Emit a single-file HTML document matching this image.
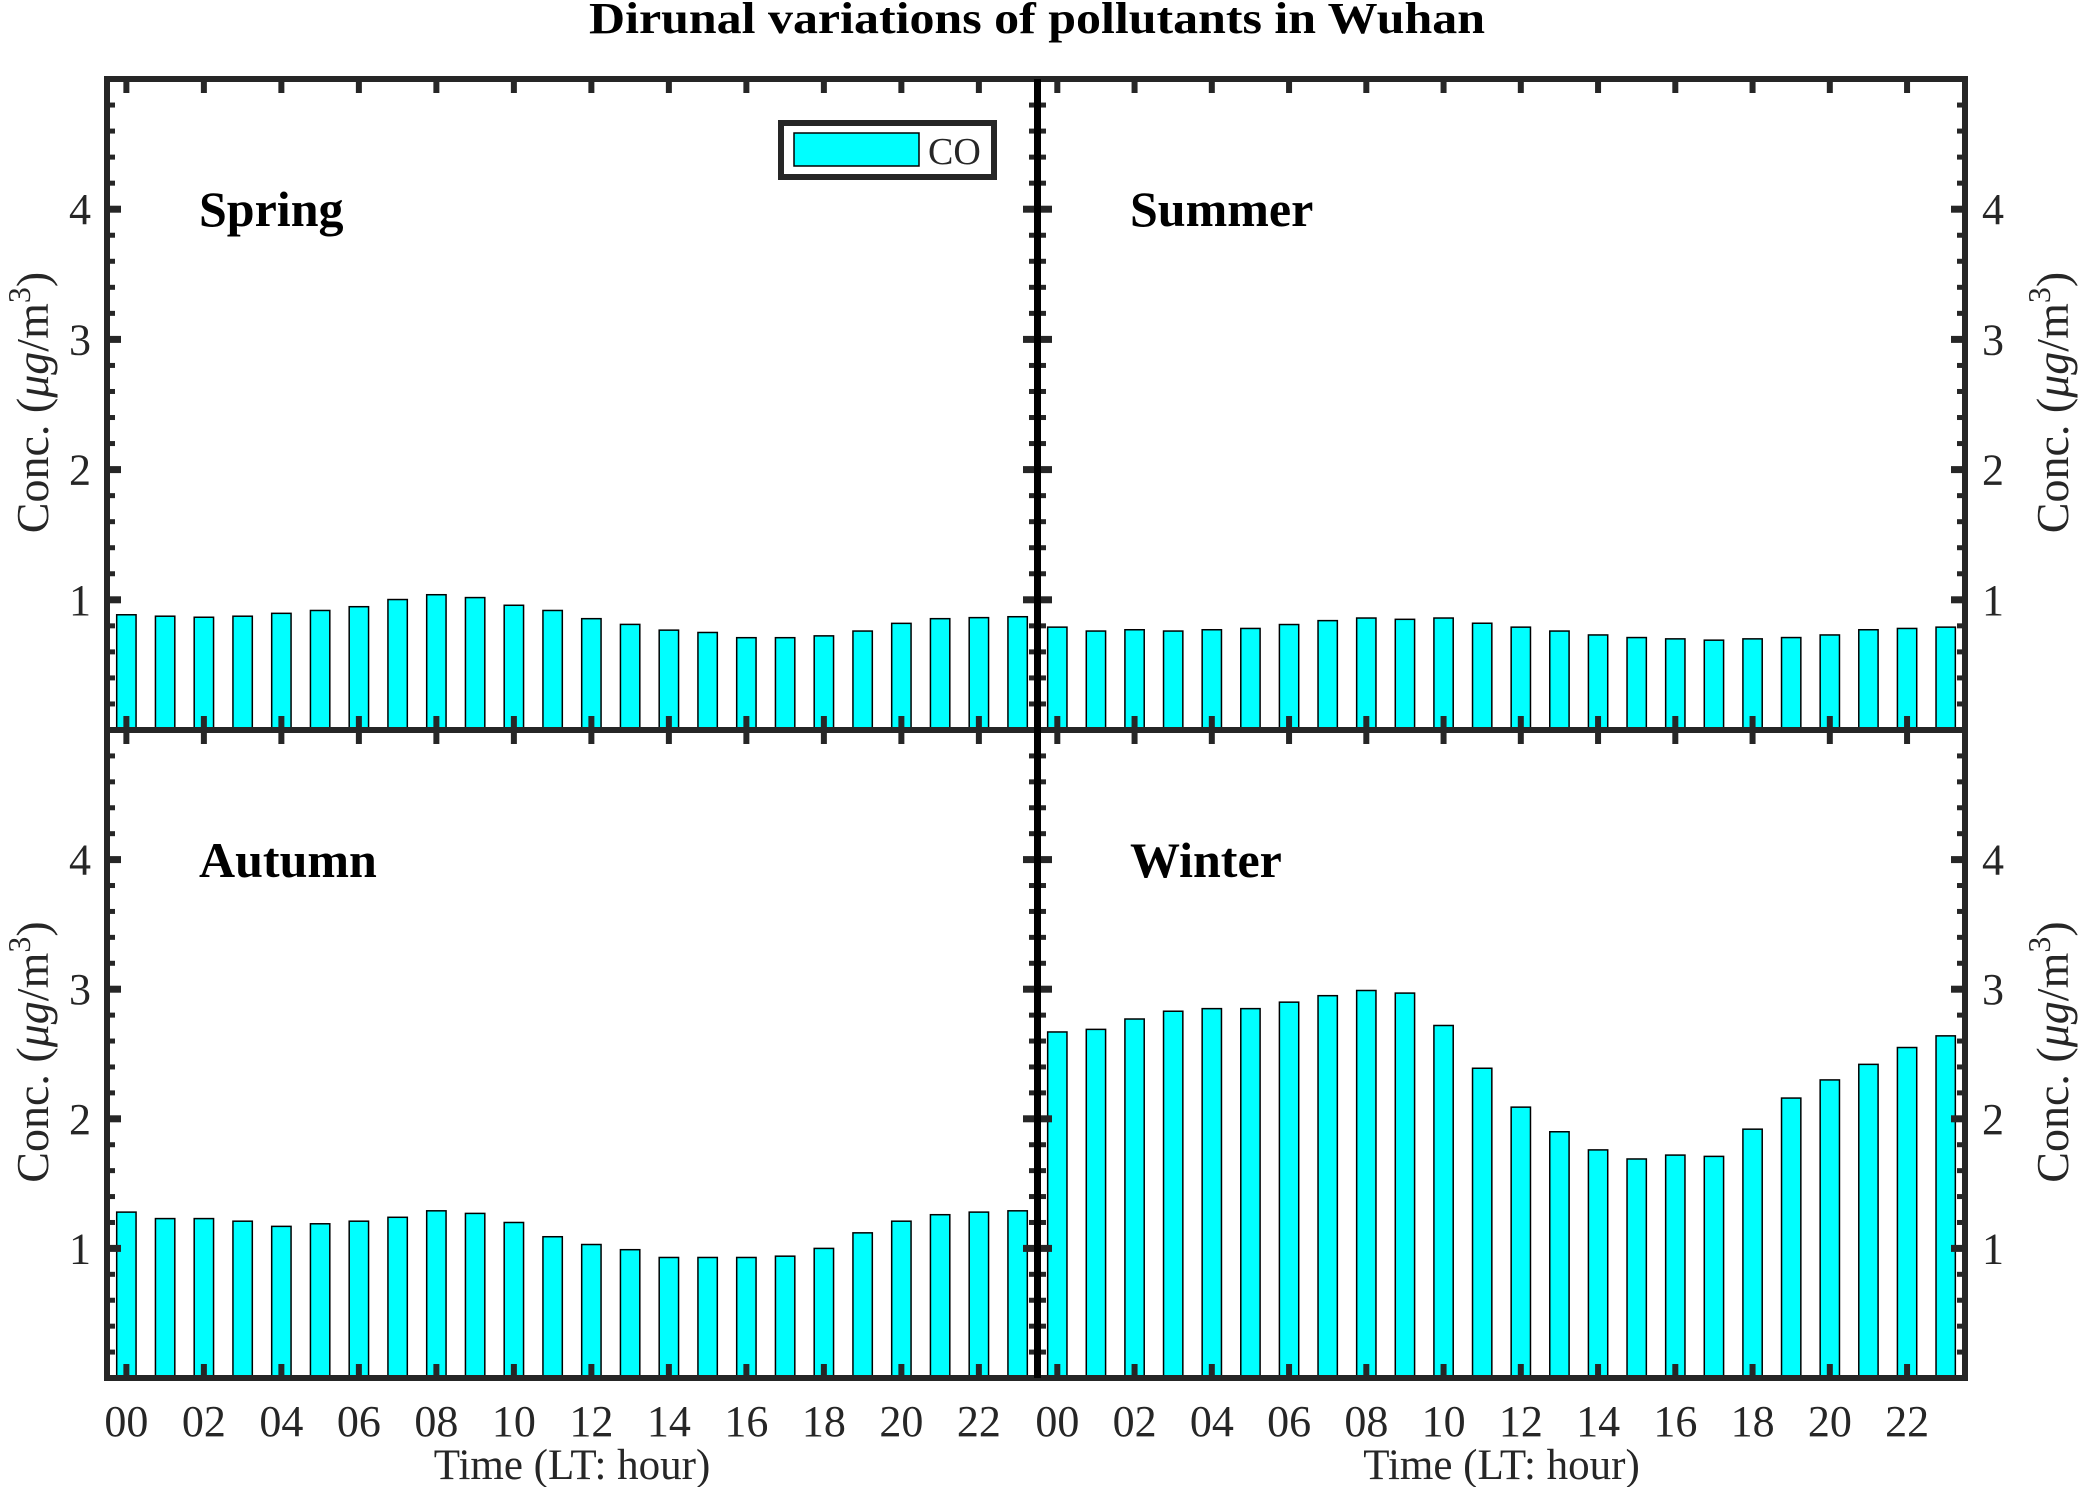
<!DOCTYPE html>
<html><head><meta charset="utf-8"><style>
html,body{margin:0;padding:0;background:#fff}
svg{display:block;font-family:"Liberation Serif",serif}
</style></head><body>
<svg id="chart" width="2084" height="1487" viewBox="0 0 2084 1487" xmlns="http://www.w3.org/2000/svg">
<text x="1037" y="33" text-anchor="middle" font-size="44" font-weight="bold" textLength="896" lengthAdjust="spacingAndGlyphs">Dirunal variations of pollutants in Wuhan</text>
</svg>
<script>
const hours = [0,1,2,3,4,5,6,7,8,9,10,11,12,13,14,15,16,17,18,19,20,21,22,23];
const seasons = ["Spring","Summer","Autumn","Winter"];
const springCO = [0.885,0.874,0.866,0.874,0.896,0.918,0.947,1.002,1.039,1.017,0.958,0.918,0.855,0.811,0.767,0.749,0.709,0.709,0.723,0.760,0.819,0.855,0.863,0.870];
const summerCO = [0.79,0.76,0.77,0.76,0.77,0.78,0.81,0.84,0.86,0.85,0.86,0.82,0.79,0.76,0.73,0.71,0.70,0.69,0.70,0.71,0.73,0.77,0.78,0.79];
const autumnCO = [1.28,1.23,1.23,1.21,1.17,1.19,1.21,1.24,1.29,1.27,1.20,1.09,1.03,0.99,0.93,0.93,0.93,0.94,1.00,1.12,1.21,1.26,1.28,1.29];
const winterCO = [2.67,2.69,2.77,2.83,2.85,2.85,2.90,2.95,2.99,2.97,2.72,2.39,2.09,1.90,1.76,1.69,1.72,1.71,1.92,2.16,2.30,2.42,2.55,2.64];
const yTicks = [1,2,3,4];
const xTickLabels = ["00","02","04","06","08","10","12","14","16","18","20","22"];

const NS = "http://www.w3.org/2000/svg";
const svg = document.getElementById("chart");
function mk(tag, attrs, parent){ const e=document.createElementNS(NS,tag); for(const k in attrs) e.setAttribute(k,attrs[k]); (parent||svg).appendChild(e); return e; }

const series = [springCO, summerCO, autumnCO, winterCO];
const panels = [
  {x0:107,x1:1037,y0:79,y1:730,side:"left",bottom:false},
  {x0:1038,x1:1965,y0:79,y1:730,side:"right",bottom:false},
  {x0:107,x1:1037,y0:730,y1:1378,side:"left",bottom:true},
  {x0:1038,x1:1965,y0:730,y1:1378,side:"right",bottom:true}
];
const YMAX = 5, XMIN = -0.5, XMAX = 23.5;

panels.forEach((p, i) => {
  const g = mk("g", {});
  
  
  const xs = v => p.x0 + (v - XMIN) / (XMAX - XMIN) * (p.x1 - p.x0);
  const ys = v => p.y1 - v / YMAX * (p.y1 - p.y0);
  const bw = 0.5 * (p.x1 - p.x0) / (XMAX - XMIN);
  series[i].forEach((v, h) => {
    const r = mk("rect", {x: xs(hours[h]) - bw/2, y: ys(v), width: bw, height: ys(0) - ys(v), fill: "#00FFFF", stroke: "#000", "stroke-width": 1.5}, g);
    
    
  });
  for (let k = 1; k < 25; k++) {
    const v = k * 0.2;
    const major = k % 5 === 0;
    const L = major ? 14 : 8, w = major ? 7 : 5;
    const y = ys(v);
    mk("line", {x1:p.x0, x2:p.x0+L, y1:y, y2:y, stroke:"#262626","stroke-width":w}, g);
    mk("line", {x1:p.x1, x2:p.x1-L, y1:y, y2:y, stroke:"#262626","stroke-width":w}, g);
  }
  for (let h = 0; h <= 22; h += 2) {
    const x = xs(h);
    mk("line", {x1:x, x2:x, y1:p.y1, y2:p.y1-14, stroke:"#262626","stroke-width":6}, g);
    mk("line", {x1:x, x2:x, y1:p.y0, y2:p.y0+14, stroke:"#262626","stroke-width":6}, g);
  }
  mk("rect", {x:p.x0, y:p.y0, width:p.x1-p.x0, height:p.y1-p.y0, fill:"none", stroke:"#262626","stroke-width":6}, g);
  yTicks.forEach(t => {
    const tx = mk("text", {x: p.side==="left" ? 91 : 1982, y: ys(t) + 15, "font-size": 44, fill:"#262626", "text-anchor": p.side==="left" ? "end" : "start"}, g);
    tx.textContent = t;
    
    
  });
  const cx = p.side==="left" ? 48 : 2068, cy = (p.y0+p.y1)/2 - 2;
  const yt = mk("text", {x:cx, y:cy, "font-size":46, fill:"#262626", "text-anchor":"middle", transform:`rotate(-90 ${cx} ${cy})`}, g);
  
  
  yt.appendChild(document.createTextNode("Conc. ("));
  const mu = mk("tspan", {"font-style":"italic"}, yt); mu.textContent = "μg";
  yt.appendChild(document.createTextNode("/m"));
  const sup = mk("tspan", {"baseline-shift":"super","font-size":32}, yt); sup.textContent = "3";
  const cl = mk("tspan", {}, yt); cl.textContent = ")";
  const sl = mk("text", {x: p.x0 + 92, y: p.y0 + 147, "font-size": 50, "font-weight":"bold"}, g);
  sl.textContent = seasons[i];
  
  
  if (p.bottom) {
    xTickLabels.forEach((lab, j) => {
      const t = mk("text", {x: xs(j*2), y: 1436, "font-size":44, fill:"#262626", "text-anchor":"middle"}, g);
      t.textContent = lab;
      
      
    });
    const xl = mk("text", {x:(p.x0+p.x1)/2, y:1479, "font-size":43, fill:"#262626", "text-anchor":"middle"}, g);
    xl.textContent = "Time (LT: hour)";
    
    
  }
});
const mid = mk("line", {x1:1037.5, x2:1037.5, y1:79, y2:1378, stroke:"#000","stroke-width":7});



const lg = mk("g", {});


mk("rect", {x:781, y:123, width:213, height:54, fill:"#fff", stroke:"#262626", "stroke-width":6}, lg);
const lp = mk("rect", {x:794, y:133, width:125, height:33, fill:"#00FFFF", stroke:"#000", "stroke-width":1.5}, lg);


const lt = mk("text", {x:928, y:164, "font-size":38, fill:"#262626"}, lg);
lt.textContent = "CO";


</script>
</body></html>
